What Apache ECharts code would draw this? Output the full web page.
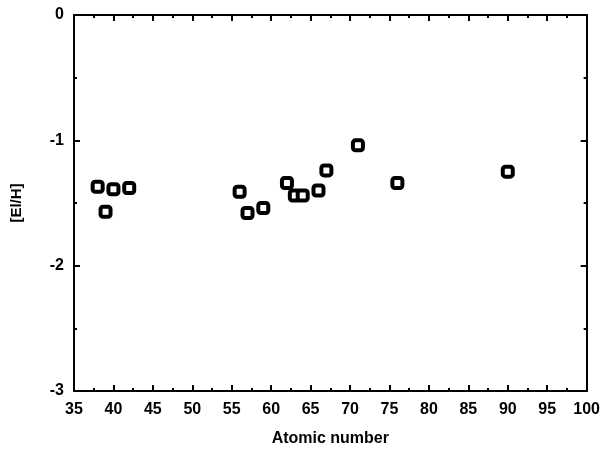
<!DOCTYPE html>
<html>
<head>
<meta charset="utf-8">
<script src="https://cdn.jsdelivr.net/npm/echarts@6/dist/echarts.min.js"></script>
<style>
    html, body { margin: 0; padding: 0; background: #fff; }
    #chart { width: 603px; height: 452px; }
</style>
</head>
<body>
<div id="chart"></div>
<script>
// atomic number and [El/H]
const atomicNumber = [38, 39, 40, 42, 56, 57, 59, 62, 63, 64, 66, 67, 71, 76, 90];
const elH = [-1.37, -1.57, -1.39, -1.38, -1.41, -1.58, -1.54, -1.34, -1.44, -1.44, -1.40, -1.24, -1.04, -1.34, -1.25];

const font = 'Liberation Sans, Arial, sans-serif';
const chart = echarts.init(document.getElementById('chart'));

const lineStyle = { color: '#000', width: 2 };
const xCommon = {
    type: 'value', min: 35, max: 100, interval: 5,
    axisLine: { show: true, onZero: false, lineStyle: lineStyle },
    axisTick: { show: true, inside: true, length: 6, lineStyle: { color: '#000', width: 2 } },
    minorTick: { show: true, splitNumber: 2, length: 3, lineStyle: { color: '#000', width: 2 } },
    splitLine: { show: false },
};
const yCommon = {
    type: 'value', min: -3, max: 0, interval: 1,
    axisLine: { show: true, onZero: false, lineStyle: lineStyle },
    axisTick: { show: true, inside: true, length: 6, lineStyle: { color: '#000', width: 2 } },
    minorTick: { show: true, splitNumber: 2, length: 3, lineStyle: { color: '#000', width: 2 } },
    splitLine: { show: false },
};

let option = {
    animation: false,
    backgroundColor: '#fff',
    grid: { left: 74, right: 13, top: 15, bottom: 61 },
    xAxis: [
        Object.assign({}, xCommon, {
            position: 'bottom',
            name: 'Atomic number',
            nameLocation: 'middle',
            nameGap: 40,
            nameTextStyle: { fontFamily: font, fontWeight: 'bold', fontSize: 16, color: '#000' },
            axisLabel: { fontFamily: font, fontWeight: 'bold', fontSize: 16, color: '#000', margin: 11 },
        }),
        Object.assign({}, xCommon, { position: 'top', axisLabel: { show: false } }),
    ],
    yAxis: [
        Object.assign({}, yCommon, {
            position: 'left',
            name: '[El/H]',
            nameLocation: 'middle',
            nameGap: 50,
            nameTextStyle: { fontFamily: font, fontWeight: 'bold', fontSize: 15, color: '#000' },
            axisLabel: { fontFamily: font, fontWeight: 'bold', fontSize: 16, color: '#000', margin: 10 },
        }),
        Object.assign({}, yCommon, { position: 'right', axisLabel: { show: false } }),
    ],
    series: [
        {
            type: 'scatter',
            xAxisIndex: 0,
            yAxisIndex: 0,
            symbol: 'roundRect',
            symbolSize: 10,
            itemStyle: { color: '#fff', borderColor: '#000', borderWidth: 4, opacity: 1 },
            data: atomicNumber.map((z, i) => [z, elH[i]]),
        },
    ],
};
chart.setOption(option);
</script>
</body>
</html>
